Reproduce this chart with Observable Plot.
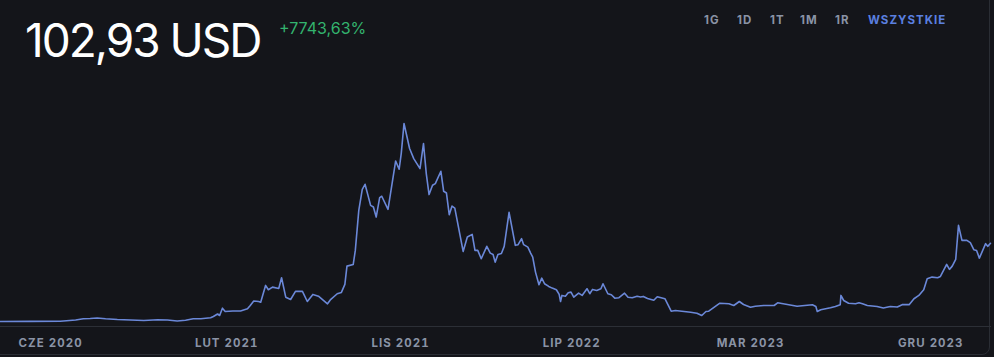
<!DOCTYPE html>
<html><head><meta charset="utf-8">
<script src="https://cdn.jsdelivr.net/npm/d3@7"></script>
<script src="https://cdn.jsdelivr.net/npm/@observablehq/plot@0.6"></script>
<style>
html,body{margin:0;padding:0;background:#14151a;overflow:hidden;}
#wrap{position:relative;width:994px;height:357px;}
#card{position:absolute;left:-20px;top:-20px;width:1010px;height:375px;border:1px solid #2a2d34;border-radius:8px;box-sizing:border-box;}
#price{position:absolute;left:25px;top:10px;font-family:Inter,sans-serif;font-size:46px;font-weight:400;color:#ffffff;letter-spacing:-2px;line-height:60px;}
#chg{position:absolute;left:279px;top:17px;font-family:Inter,sans-serif;font-size:16px;color:#33b36e;line-height:22px;}
#ranges{position:absolute;top:12px;left:704px;font-family:Inter,sans-serif;font-size:11.5px;font-weight:700;letter-spacing:1px;line-height:16px;color:#8a93a5;white-space:nowrap;}
#ranges span{position:absolute;top:0;}
#chart{position:absolute;left:0;top:0;}
</style></head>
<body><div id="wrap">
<div id="card"></div>
<div id="chart"></div>
<div id="price"></div>
<div id="chg"></div>
<div id="ranges"></div>
</div>
<script>
const priceLabel = "102,93 USD";
const changeLabel = "+7743,63%";
const rangeLabels = ["1G","1D","1T","1M","1R","WSZYSTKIE"];
const monthNames = ["STY","LUT","MAR","KWI","MAJ","CZE","LIP","SIE","WRZ","PAŹ","LIS","GRU"];
const tickDates = ["2020-06-20","2021-02-28","2021-11-05","2022-07-09","2023-03-23","2023-12-07"];
const dates = ["2020-04-09","2020-05-22","2020-07-04","2020-07-26","2020-08-06","2020-08-16","2020-08-26","2020-09-07","2020-09-24","2020-10-13",
"2020-11-01","2020-11-21","2020-12-05","2020-12-19","2020-12-31","2021-01-11","2021-01-22","2021-02-05","2021-02-09","2021-02-15",
"2021-02-18","2021-02-22","2021-02-26","2021-03-09","2021-03-20","2021-03-30","2021-04-03","2021-04-08","2021-04-15","2021-04-18",
"2021-04-25","2021-04-29","2021-05-05","2021-05-14","2021-05-18","2021-05-24","2021-05-31","2021-06-07","2021-06-17","2021-06-24",
"2021-07-02","2021-07-10","2021-07-23","2021-07-27","2021-08-06","2021-08-12","2021-08-17","2021-08-20","2021-08-29","2021-09-01",
"2021-09-06","2021-09-11","2021-09-15","2021-09-23","2021-09-27","2021-10-01","2021-10-06","2021-10-09","2021-10-18","2021-10-29",
"2021-11-03","2021-11-06","2021-11-10","2021-11-18","2021-11-24","2021-12-03","2021-12-08","2021-12-12","2021-12-16","2021-12-21",
"2021-12-25","2022-01-02","2022-01-06","2022-01-10","2022-01-14","2022-01-18","2022-01-22","2022-02-03","2022-02-09","2022-02-16",
"2022-02-20","2022-02-24","2022-03-01","2022-03-09","2022-03-14","2022-03-18","2022-03-21","2022-03-25","2022-03-30","2022-04-03",
"2022-04-10","2022-04-19","2022-04-23","2022-04-28","2022-05-01","2022-05-07","2022-05-11","2022-05-14","2022-05-18","2022-05-23",
"2022-05-27","2022-05-31","2022-06-06","2022-06-11","2022-06-17","2022-06-21","2022-06-23","2022-06-25","2022-06-30","2022-07-04",
"2022-07-08","2022-07-12","2022-07-19","2022-07-24","2022-07-31","2022-08-04","2022-08-08","2022-08-14","2022-08-20","2022-08-23",
"2022-08-30","2022-09-04","2022-09-09","2022-09-15","2022-09-23","2022-09-28","2022-10-04","2022-10-11","2022-10-16","2022-10-20",
"2022-10-26","2022-11-04","2022-11-09","2022-11-20","2022-11-29","2022-12-05","2022-12-27","2023-01-05","2023-01-12","2023-01-18",
"2023-01-22","2023-02-07","2023-02-20","2023-02-27","2023-03-07","2023-03-13","2023-03-23","2023-03-30","2023-04-11","2023-04-26",
"2023-05-01","2023-05-15","2023-05-29","2023-06-20","2023-06-25","2023-06-27","2023-07-02","2023-07-16","2023-07-23","2023-07-30",
"2023-07-31","2023-08-04","2023-08-11","2023-08-21","2023-08-26","2023-08-31","2023-09-07","2023-09-21","2023-09-30","2023-10-10",
"2023-10-20","2023-10-27","2023-11-06","2023-11-13","2023-11-20","2023-11-27","2023-12-02","2023-12-09","2023-12-17","2023-12-21",
"2023-12-30","2024-01-03","2024-01-07","2024-01-12","2024-01-16","2024-01-21","2024-01-28","2024-02-02","2024-02-07","2024-02-11",
"2024-02-15","2024-02-24","2024-02-27","2024-03-02"];
const prices = [1.31,1.5,1.56,3.26,4.82,5.2,5.86,4.82,3.9,3.26,
2.6,3.5,3.26,1.95,3.0,4.82,4.82,6.12,7.8,11.07,
9.1,18.6,14.3,15.0,15.0,17.8,22.1,28.0,27.3,26.4,
48.2,42.6,46.0,44.3,58.2,32.9,29.9,40.4,40.4,27.3,
36.5,34.2,24.3,29.3,37.4,39.1,49.5,73.3,75.5,93.7,
145.8,173.2,179.7,152.3,150.1,137.1,162.4,164.1,147.1,210.0,
199.2,219.6,258.7,226.2,213.1,200.1,232.7,193.6,166.3,178.4,
180.6,196.6,170.6,168.3,140.2,151.4,148.8,92.4,111.1,114.6,
93.7,93.7,82.9,99.0,90.2,88.5,78.5,88.5,89.8,99.0,
143.2,100.3,101.2,109.0,101.2,98.0,90.2,85.0,65.5,49.1,
57.7,50.4,46.9,44.7,42.6,36.5,27.3,35.2,34.2,38.7,
39.5,32.9,38.1,35.2,43.9,37.4,43.0,41.7,43.9,50.4,
37.4,36.1,31.6,32.2,38.1,32.9,32.2,34.2,33.2,33.9,
31.2,28.9,33.5,30.9,14.7,15.6,13.4,12.1,9.1,14.3,
14.7,25.1,24.3,22.1,27.3,23.4,19.9,21.2,22.1,22.1,
25.6,23.4,21.2,23.0,20.8,14.3,16.5,19.1,20.8,23.0,
35.2,28.6,25.1,24.3,25.6,24.3,22.1,20.8,18.9,20.8,
20.2,23.2,23.2,30.9,35.2,42.6,56.9,59.0,58.2,59.9,
75.5,69.0,73.3,82.0,126.3,106.8,106.8,103.8,94.7,93.7,
83.7,102.5,99.0,102.93];

const data = dates.map((d, i) => ({date: new Date(d), price: prices[i]}));
const fmt = d => monthNames[d.getUTCMonth()] + " " + d.getUTCFullYear();

const chart = Plot.plot({
  width: 994,
  height: 357,
  marginLeft: 0,
  marginRight: 4,
  marginTop: 122,
  marginBottom: 31,
  insetBottom: 4,
  style: {background: "transparent", color: "#8a93a5", fontFamily: "Inter, sans-serif"},
  x: {type: "utc", domain: [new Date("2020-04-09"), new Date("2024-03-02")]},
  y: {domain: [0, 260], axis: null},
  marks: [
    Plot.frame({anchor: "bottom", stroke: "#2c2f36", strokeWidth: 1}),
    Plot.axisX(tickDates.map(d => new Date(d)), {
      tickSize: 0, tickPadding: 12, tickFormat: fmt, label: null,
      fill: "#8a93a5", fontSize: 11.5, fontWeight: 700
    }),
    Plot.lineY(data, {x: "date", y: "price", stroke: "#6b88d8", strokeWidth: 1.6})
  ]
});
chart.style.letterSpacing = "1px";
document.getElementById("chart").appendChild(chart);
document.getElementById("price").textContent = priceLabel;
document.getElementById("chg").textContent = changeLabel;
const rangeX = [0, 33, 66, 96, 131, 164];
const rg = document.getElementById("ranges");
rangeLabels.forEach((t, i) => {
  const s = document.createElement("span");
  s.textContent = t;
  s.style.left = rangeX[i] + "px";
  if (i === rangeLabels.length - 1) s.style.color = "#5b80e0";
  rg.appendChild(s);
});
</script>
</body></html>
